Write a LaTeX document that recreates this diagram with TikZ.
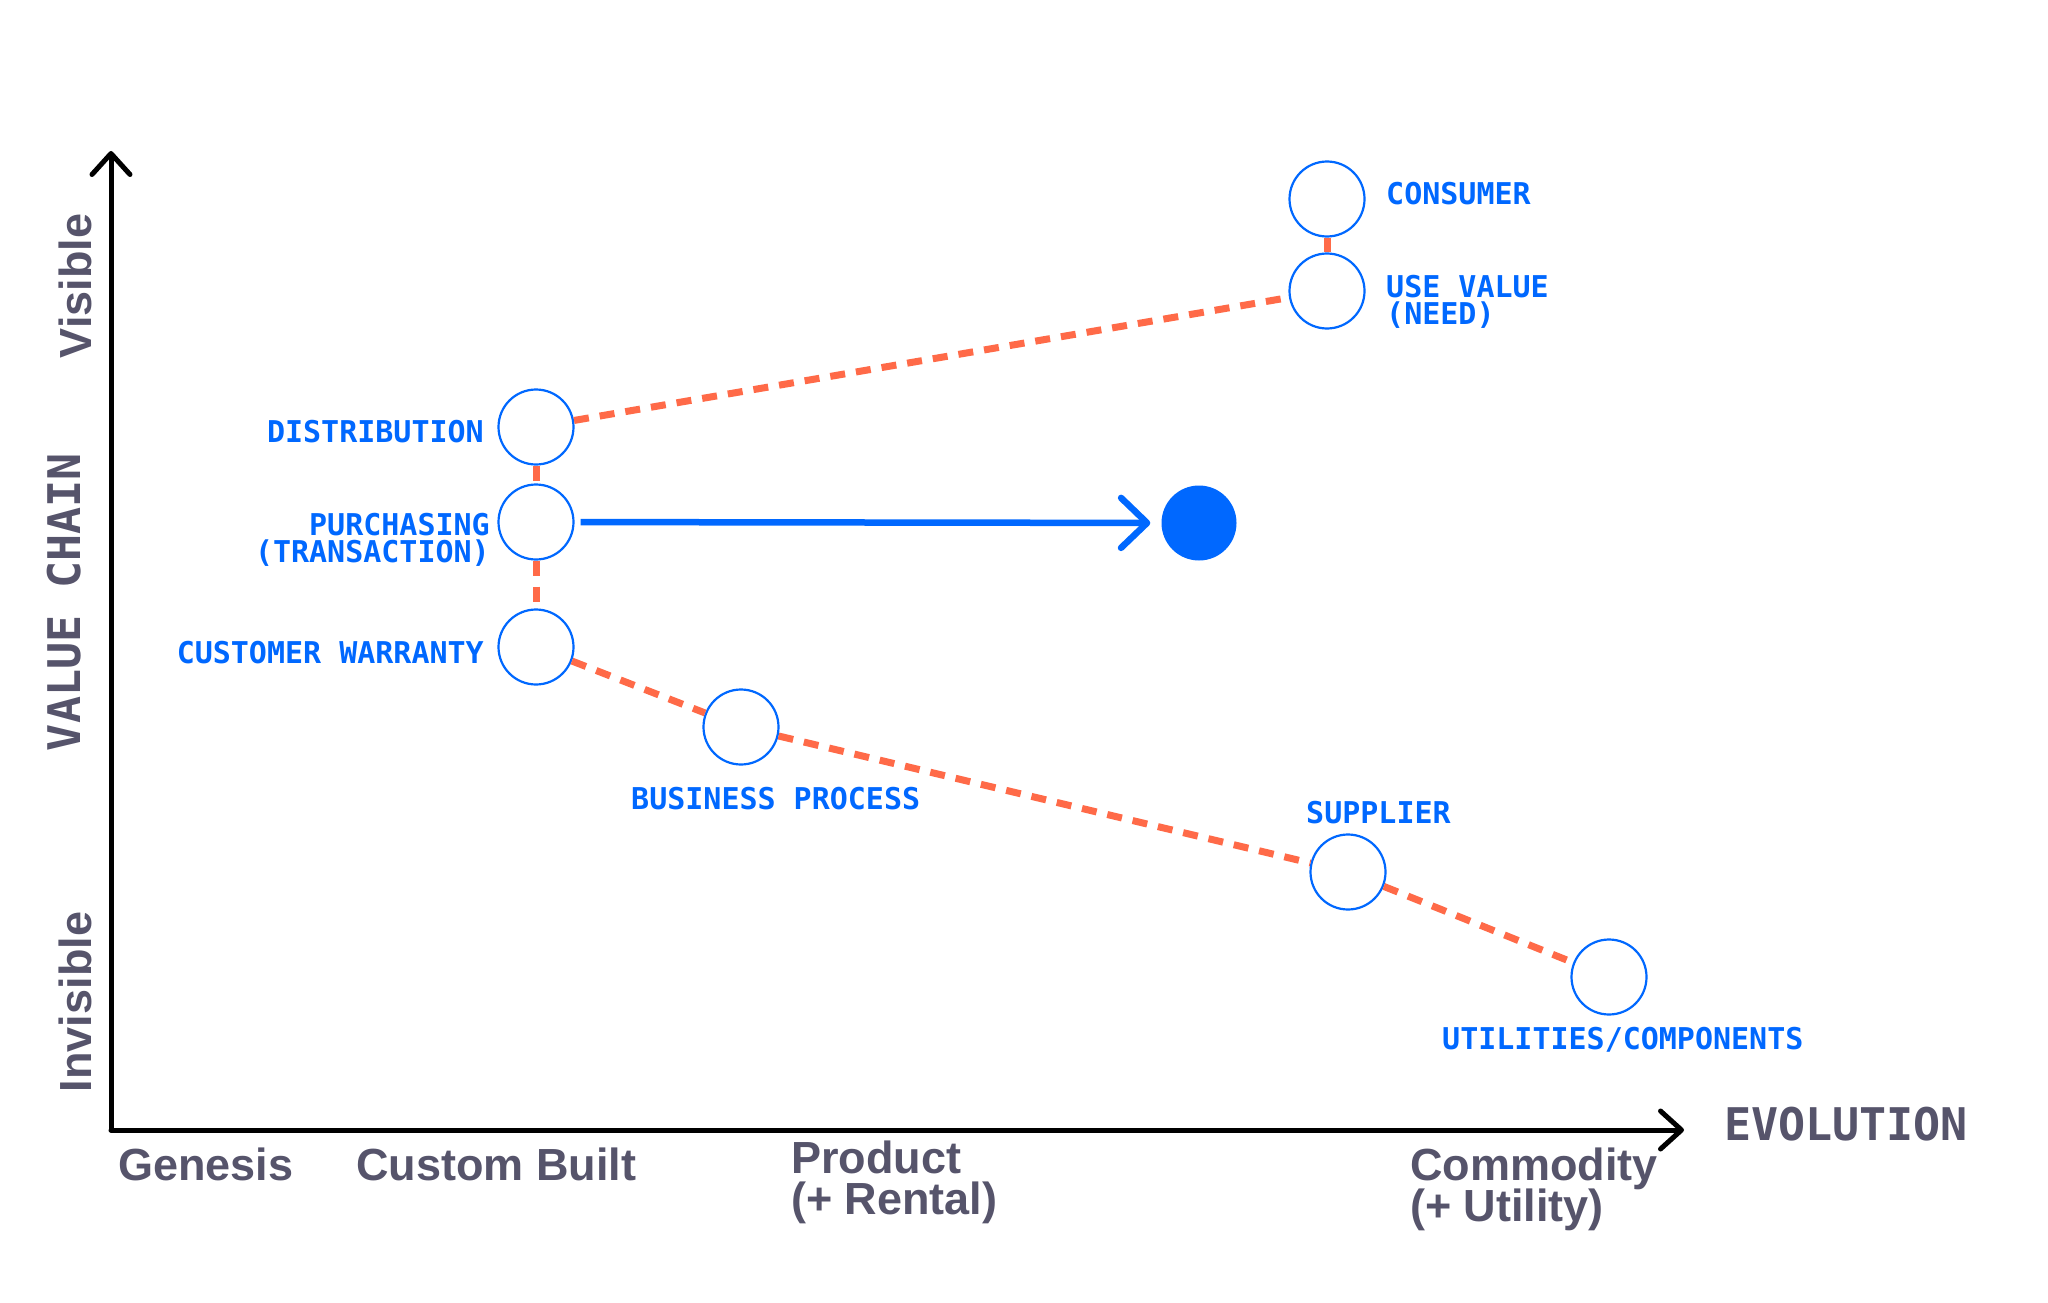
\documentclass[tikz,border=0pt]{standalone}
\usepackage{fontspec}
\newfontfamily\lblmono{DejaVu Sans Mono}
\newfontfamily\lblsans{Liberation Sans}
\usetikzlibrary{arrows.meta}
\definecolor{wblue}{RGB}{0,104,255}
\definecolor{worange}{RGB}{255,106,72}
\definecolor{wgray}{RGB}{86,84,107}
\newcommand\twoL[2]{\vtop{\lineskiplimit=-100pt\halign{##\hfil\cr#1\cr#2\cr}}}
\newcommand\twoR[2]{\vtop{\lineskiplimit=-100pt\halign{\hfil##\cr#1\cr#2\cr}}}
\tikzset{
 circ/.style={circle, draw=wblue, line width=2.2pt, minimum size=75pt, inner sep=0pt, fill=white},
 dotnode/.style={circle, fill=wblue, minimum size=75pt, inner sep=0pt},
 link/.style={draw=worange, line width=7pt, dash pattern=on 15pt off 11pt},
 blbl/.style={font=\lblmono\bfseries\fontsize{30}{27}\selectfont, text=wblue, inner sep=0pt},
 glbl/.style={font=\lblsans\bfseries\fontsize{45}{41}\selectfont, text=wgray, inner sep=0pt},
 gmono/.style={font=\lblmono\bfseries\fontsize{45}{45}\selectfont, text=wgray, inner sep=0pt},
 axis/.style={line width=5pt, black, line cap=round, -{Straight Barb[length=21pt,width=38pt,round]}},
 flow/.style={wblue, line width=6.5pt, -{Straight Barb[length=26pt,width=50pt,round]}, shorten <=6pt, shorten >=11pt}
}
\begin{document}
\begin{tikzpicture}[x=1pt,y=-1pt]
\useasboundingbox[fill=white] (0,0) rectangle (2048,1303);
% axes
\coordinate (O) at (111,1130);
\coordinate (ytip) at (111,151);
\coordinate (xtip) at (1684,1130);
\draw[axis] (O) -- (ytip);
\draw[axis] (O) -- (xtip);
% circles
\node[circ] (con) at (1327,199) {};
\node[circ] (use) at (1327,291) {};
\node[circ] (dis) at (536,427) {};
\node[circ] (pur) at (536,522) {};
\node[circ] (cw) at (536,647) {};
\node[circ] (bp) at (741,727) {};
\node[circ] (sup) at (1348,872) {};
\node[circ] (uti) at (1609,977) {};
\node[dotnode] (dot) at (1199,523) {};
% links
\draw[link] (con) -- (use);
\draw[link] (dis) -- (use);
\draw[link] (dis) -- (pur);
\draw[link] (pur) -- (cw);
\draw[link] (cw) -- (bp);
\draw[link] (bp) -- (sup);
\draw[link] (sup) -- (uti);
\draw[flow] (pur) -- (dot);
% blue labels
\node[blbl, anchor=base west] (tcon) at (1386,204) {CONSUMER};
\node[blbl, anchor=base west] (tuse) at (1386,297) {\twoL{USE VALUE}{(NEED)}};
\node[blbl, anchor=base east] (tdis) at (484,442) {DISTRIBUTION};
\node[blbl, anchor=base east] (tpur) at (490,535) {\twoR{PURCHASING}{(TRANSACTION)}};
\node[blbl, anchor=base east] (tcw) at (484,663) {CUSTOMER WARRANTY};
\node[blbl, anchor=base west] (tbp) at (631,809) {BUSINESS PROCESS};
\node[blbl, anchor=base west] (tsup) at (1306,823) {SUPPLIER};
\node[blbl, anchor=base west] (tuti) at (1442,1049) {UTILITIES/COMPONENTS};
% gray axis labels
\node[gmono, anchor=base west] (tevo) at (1724,1140) {EVOLUTION};
\node[gmono, anchor=base, rotate=90] (tvc) at (80,602) {VALUE CHAIN};
\node[glbl, anchor=base, rotate=90] (tvis) at (91,286) {Visible};
\node[glbl, anchor=base, rotate=90] (tinv) at (91,1002) {Invisible};
\node[glbl, anchor=base west] (tgen) at (118,1180) {Genesis};
\node[glbl, anchor=base west] (tcb) at (356,1180) {Custom Built};
\node[glbl, anchor=base west] (tprod) at (791,1173) {\twoL{Product}{(+ Rental)}};
\node[glbl, anchor=base west] (tcom) at (1410,1180) {\twoL{Commodity}{(+ Utility)}};
\end{tikzpicture}
\end{document}
